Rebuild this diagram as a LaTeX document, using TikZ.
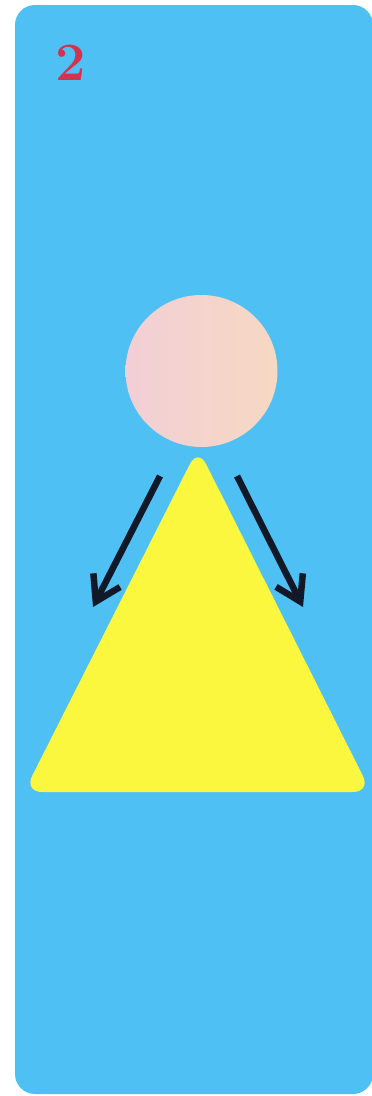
\documentclass[tikz,border=0pt]{standalone}
\usetikzlibrary{arrows.meta}
\definecolor{cardblue}{HTML}{4EC0F4}
\definecolor{lemon}{HTML}{FBF73E}
\definecolor{crimson}{HTML}{D2334E}
\definecolor{pinkL}{HTML}{F1CFD6}
\definecolor{peachR}{HTML}{F7D8C2}
\definecolor{navy}{HTML}{111828}
\tikzset{
  card/.style={fill=cardblue, draw=none, rounded corners=20pt},
  head/.style={left color=pinkL, right color=peachR, draw=none},
  body/.style={fill=lemon, draw=none, rounded corners=18pt},
  arr/.style={draw=navy, line width=6.5pt, -{Straight Barb[length=24pt,width=30pt]}},
  numlabel/.style={text=crimson, font=\fontsize{54}{54}\selectfont\bfseries, inner sep=0pt, anchor=south west}
}
\begin{document}
\begin{tikzpicture}[x=1pt,y=-1pt]
\useasboundingbox (0,0) rectangle (372,1096);
\fill[white] (0,0) rectangle (372,1096);
\path[card] (15,5) rectangle (373,1094);
\node[numlabel] (num) at (55,81) {2};
\shade[head] (201.5,371) circle (76);
\node[circle, minimum size=152pt, inner sep=0pt] (circ) at (201.5,371) {};
\path[body] (198,448) -- (371,792) -- (24,792) -- cycle;
\coordinate (apex) at (198,448);
\coordinate (la) at (160,476);
\coordinate (lb) at (93,607);
\coordinate (ra) at (237,476);
\coordinate (rb) at (303,607);
\draw[arr] (la) -- (lb);
\draw[arr] (ra) -- (rb);
\end{tikzpicture}
\end{document}
